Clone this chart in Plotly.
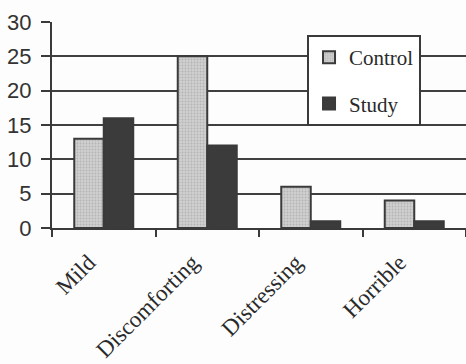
import plotly.graph_objects as go

categories = ["Mild", "Discomforting", "Distressing", "Horrible"]
control = [13, 25, 6, 4]
study = [16, 12, 1, 1]
y_ticks = [0, 5, 10, 15, 20, 25, 30]

edge = "#3a3a3a"

fig = go.Figure()
fig.add_trace(go.Bar(
    x=categories, y=control, name="Control", legendgroup="c",
    marker=dict(color="#c2c2c2", line=dict(color=edge, width=2),
                pattern=dict(shape=".", fgcolor="#9a9a9a", bgcolor="#cfcfcf", size=3, solidity=0.3)),
))
fig.add_trace(go.Bar(
    x=categories, y=study, name="Study", legendgroup="s",
    marker=dict(color="#3b3b3b", line=dict(color=edge, width=2)),
))

fig.update_layout(
    width=466, height=364,
    margin=dict(l=52, r=0, t=22, b=136),
    paper_bgcolor="#fdfdfd", plot_bgcolor="#fdfdfd",
    barmode="group", bargap=0.43, bargroupgap=0,
    showlegend=True,
    legend=dict(
        x=0.616, y=0.937, xanchor="left", yanchor="top",
        bgcolor="#ffffff", bordercolor=edge, borderwidth=2,
        font=dict(family="Liberation Serif", size=21, color="#2a2a2a"),
        traceorder="grouped", tracegroupgap=16,
        itemwidth=30,
    ),
    xaxis=dict(
        type="category", tickangle=-45, automargin=False,
        ticks="outside", tickson="boundaries", ticklen=7, tickwidth=2, tickcolor=edge,
        showline=True, linecolor=edge, linewidth=2,
        tickfont=dict(family="Liberation Serif", size=23, color="#2a2a2a"),
        ticklabelstandoff=10, ticklabelshift=-15,
        showgrid=False,
    ),
    yaxis=dict(
        range=[0, 30], tickvals=y_ticks, automargin=False,
        ticks="outside", ticklen=9, tickwidth=2, tickcolor=edge,
        showline=True, linecolor=edge, linewidth=2,
        showgrid=True, gridcolor="#404040", gridwidth=2,
        zeroline=False,
        tickfont=dict(family="Liberation Sans", size=22, color="#333333"),
        ticklabelstandoff=5,
    ),
)

fig.write_html("out.html")
